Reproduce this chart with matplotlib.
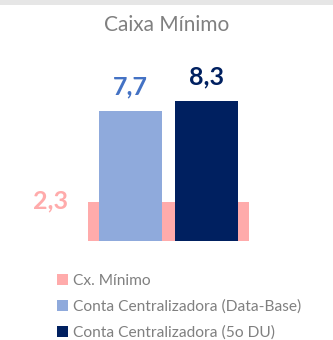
import matplotlib
matplotlib.use("Agg")
import matplotlib.pyplot as plt
from matplotlib.patches import Rectangle, Patch

# values
categories = ["Conta Centralizadora (Data-Base)", "Conta Centralizadora (5o DU)"]
values = [7.7, 8.3]
minimo_label = "Cx. Mínimo"
minimo_value = 2.3
title = "Caixa Mínimo"

bar_colors = ["#8FAADC", "#002060"]
label_colors = ["#4472C4", "#002060"]
pink = "#FFABAB"
gray = "#808080"

plt.rcParams["font.family"] = ["Lato", "DejaVu Sans"]

W, H = 333, 340
fig = plt.figure(figsize=(W / 100, H / 100), dpi=100)
fig.patch.set_facecolor("white")

# thin grey strip along the top edge
fig.add_artist(Rectangle((0, 1 - 5 / H), 1, 5 / H, transform=fig.transFigure,
                         facecolor="#E6E6E6", edgecolor="none", zorder=0))

ax = fig.add_axes([0, 0, 1, 1])
ax.set_axis_off()
px_per_cat = 76.0
px_per_unit = 16.9
x0_px = 130.5
base_px = 241.0
ax.set_xlim(-x0_px / px_per_cat, (W - x0_px) / px_per_cat)
ax.set_ylim(-(H - base_px) / px_per_unit, base_px / px_per_unit)

xs = list(range(len(categories)))
center = sum(xs) / len(xs)
pink_width = 2.12
pink_bar = ax.bar(center, minimo_value, width=pink_width, color=pink, zorder=1)
bars = ax.bar(xs, values, width=0.84, color=bar_colors, zorder=2)

for b, v, c in zip(bars, values, label_colors):
    ax.annotate(f"{v:.1f}".replace(".", ","),
                (b.get_x() + b.get_width() / 2, b.get_height()),
                xytext=(0, 11.5), textcoords="offset points",
                ha="center", va="baseline", fontsize=18, fontweight="bold", color=c)

pb = pink_bar[0]
ax.annotate(f"{minimo_value:.1f}".replace(".", ","),
            (pb.get_x(), pb.get_height()),
            xytext=(-14.4, -4.3), textcoords="offset points",
            ha="right", va="baseline", fontsize=18, fontweight="bold", color=pink)

fig.text(0.5, 1 - 25 / H, title, ha="center", va="center", fontsize=15, color=gray)

handles = [Patch(facecolor=pink), Patch(facecolor=bar_colors[0]), Patch(facecolor=bar_colors[1])]
labels = [minimo_label] + categories
leg = fig.legend(handles, labels, loc="upper left",
                 bbox_to_anchor=(57 / W, 1 - 274 / H), frameon=False,
                 fontsize=11.2, borderpad=0, borderaxespad=0,
                 handlelength=0.68, handleheight=0.68, handletextpad=0.33,
                 labelspacing=0.75)
for t in leg.get_texts():
    t.set_color(gray)

fig.savefig("out.png", dpi=100, facecolor="white")
